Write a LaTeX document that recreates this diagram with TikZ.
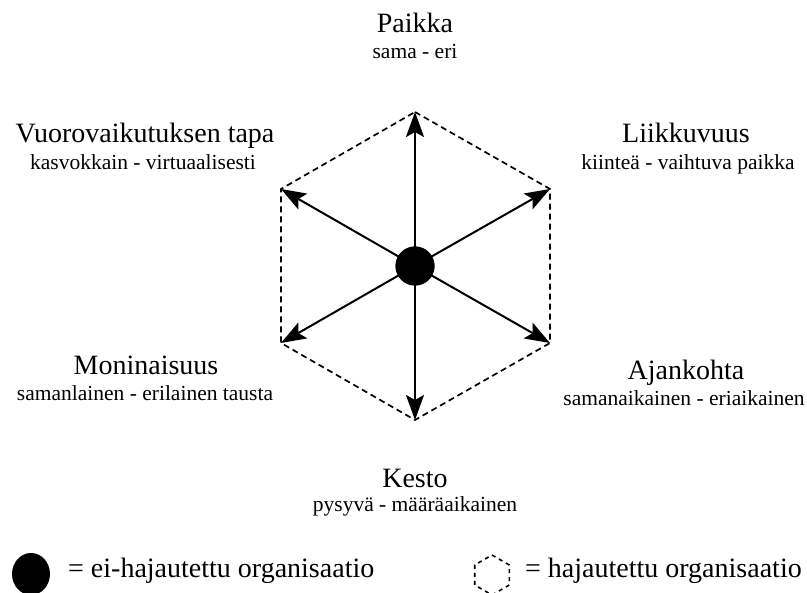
\documentclass[tikz,border=0pt]{standalone}
\usepackage{fontspec}
\setmainfont{Liberation Serif}
\usetikzlibrary{arrows.meta,calc,shapes.geometric}

\tikzset{
  title/.style={anchor=base, inner sep=0pt, font=\fontsize{28}{33}\selectfont},
  subtitle/.style={anchor=base, inner sep=0pt, font=\fontsize{21.5}{26}\selectfont},
  legendtext/.style={anchor=base west, inner sep=0pt, font=\fontsize{28}{33}\selectfont},
  spoke/.style={line width=2pt, -{Stealth[length=25pt, width=18pt, inset=5pt]}},
  rim/.style={line width=1.7pt, dash pattern=on 6pt off 4pt},
  hub/.style={circle, fill=black, minimum size=39pt, inner sep=0pt}
}

\begin{document}
\begin{tikzpicture}[x=1pt, y=-1pt]
  \useasboundingbox (0,0) rectangle (807,593);

  % hexagon corners
  \coordinate (vT) at (415,112);
  \coordinate (vUR) at (550,189);
  \coordinate (vLR) at (550,343);
  \coordinate (vB) at (415,420);
  \coordinate (vLL) at (281,343);
  \coordinate (vUL) at (281,189);

  % dashed outline
  \draw[rim] (vT) -- (vUR) -- (vLR) -- (vB) -- (vLL) -- (vUL) -- cycle;

  % centre and spokes
  \node[hub] (c) at (415,266) {};
  \foreach \v in {vT,vUR,vLR,vB,vLL,vUL}
    \draw[spoke] (c.center) -- (\v);
  \node[hub] at (c) {};

  % dimension labels
  \node[title] (t1) at (415,33) {Paikka};
  \node[subtitle] (s1) at (415,59) {sama - eri};

  \node[title] (t2) at (145,143) {Vuorovaikutuksen tapa};
  \node[subtitle] (s2) at (143,170) {kasvokkain - virtuaalisesti};

  \node[title] (t3) at (686,143) {Liikkuvuus};
  \node[subtitle] (s3) at (688,170) {kiinteä - vaihtuva paikka};

  \node[title] (t4) at (146,375) {Moninaisuus};
  \node[subtitle] (s4) at (145,401) {samanlainen - erilainen tausta};

  \node[title] (t5) at (686,380) {Ajankohta};
  \node[subtitle] (s5) at (684,406) {samanaikainen - eriaikainen};

  \node[title] (t6) at (415,488) {Kesto};
  \node[subtitle] (s6) at (415,512) {pysyvä - määräaikainen};

  % legend
  \node[ellipse, fill=black, minimum width=38pt, minimum height=42pt, inner sep=0pt] (lg1) at (31,574) {};
  \node[legendtext] (lt1) at (68,578) {= ei-hajautettu organisaatio};

  \coordinate (h) at (492,575);
  \draw[line width=1.6pt, dash pattern=on 4pt off 4pt]
    ($(h)+(0,-20)$) -- ($(h)+(17.3,-10)$) -- ($(h)+(17.3,10)$) -- ($(h)+(0,20)$)
    -- ($(h)+(-17.3,10)$) -- ($(h)+(-17.3,-10)$) -- cycle;
  \node[legendtext] (lt2) at (525,578) {= hajautettu organisaatio};
\end{tikzpicture}
\end{document}
